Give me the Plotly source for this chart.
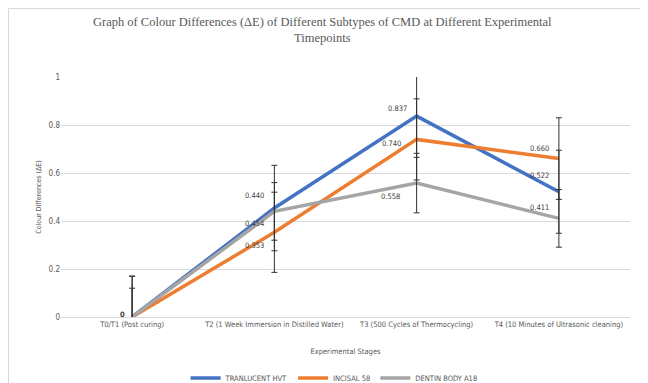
import plotly.graph_objects as go

categories = ["T0/T1 (Post curing)", "T2 (1 Week Immersion in Distilled Water)",
              "T3 (500 Cycles of Thermocycling)", "T4 (10 Minutes of Ultrasonic cleaning)"]
series_names = ["TRANLUCENT HVT", "INCISAL 58", "DENTIN BODY A18"]
translucent = [0.0, 0.454, 0.837, 0.522]
incisal = [0.0, 0.353, 0.740, 0.660]
dentin = [0.0, 0.440, 0.558, 0.411]
translucent_err = [0.17, 0.178, 0.172, 0.173]
incisal_err = [0.17, 0.167, 0.169, 0.17]
dentin_err = [0.12, 0.12, 0.124, 0.12]

colors = ["#4472C4", "#ED7D31", "#A5A5A5"]
values = [translucent, incisal, dentin]
errors = [translucent_err, incisal_err, dentin_err]
# label offsets (px) per series per point: (xshift, yshift); None = label hidden behind another
label_shifts = [
    [(-5, 3), (-8, -15), (-8, 8), (-8, 16)],
    [None, (-8, -13), (-14, -4), (-8, 10)],
    [None, (-8, 16), (-15, -13), (-8, 11)],
]

FONT = "Liberation Sans Narrow, DejaVu Sans Condensed, Arial, sans-serif"
TXT = "#595959"

fig = go.Figure()
for name, vals, col in zip(series_names, values, colors):
    fig.add_trace(go.Scatter(x=categories, y=vals, mode="lines", name=name,
                             line=dict(color=col, width=3.5), hoverinfo="skip"))
for vals, errs in zip(values, errors):
    fig.add_trace(go.Scatter(x=categories, y=vals, mode="markers", showlegend=False,
                             marker=dict(size=1, color="rgba(0,0,0,0)"),
                             error_y=dict(type="data", array=errs, visible=True,
                                          color="#303030", thickness=1, width=3),
                             hoverinfo="skip"))

annotations = []
for vals, shifts in zip(values, label_shifts):
    for c, v, sh in zip(categories, vals, shifts):
        if sh is None:
            continue
        dx, dy = sh
        annotations.append(dict(x=c, y=v, xref="x", yref="y",
                                text=("<b>0</b>" if v == 0 else f"{v:.3f}"),
                                showarrow=False, xanchor="right", yanchor="middle",
                                xshift=dx, yshift=dy,
                                font=dict(family=FONT, size=7.5,
                                          color="#404040")))

fig.update_layout(
    width=648, height=383,
    margin=dict(l=53, r=26, t=69, b=74, autoexpand=False),
    paper_bgcolor="white", plot_bgcolor="white",
    title=dict(text="Graph of Colour Differences (ΔE) of Different Subtypes of CMD at Different Experimental<br>Timepoints",
               x=0.485, xanchor="center", y=1 - 18 / 383, yanchor="top",
               font=dict(family="Liberation Serif, Times New Roman, serif", size=12.5, color=TXT)),
    showlegend=True,
    legend=dict(orientation="h", x=0.48, xanchor="center", yref="container",
                y=1 - 370 / 383, yanchor="middle",
                font=dict(family=FONT, size=7.5, color=TXT),
                bgcolor="rgba(0,0,0,0)"),
    annotations=annotations,
    shapes=[dict(type="rect", xref="paper", yref="paper",
                 x0=-52.5 / 569, x1=(647.5 - 53) / 569, y0=(309 - 382.5) / 240, y1=(309 - 0.5) / 240,
                 line=dict(color="#D9D9D9", width=1), layer="below")],
)
fig.update_xaxes(type="category", range=[-0.5, 3.5], showgrid=False, showline=True,
                 linecolor="#D9D9D9", ticks="", automargin=False,
                 tickfont=dict(family=FONT, size=7.5, color=TXT),
                 title=dict(text="Experimental Stages", standoff=20,
                            font=dict(family=FONT, size=7.5, color=TXT)))
fig.update_yaxes(range=[0, 1], dtick=0.2, showgrid=True, gridcolor="#D9D9D9", gridwidth=1,
                 zeroline=False, showline=False, ticks="", automargin=False,
                 tickfont=dict(family=FONT, size=8, color=TXT),
                 title=dict(text="Colour Differences (ΔE)", standoff=6,
                            font=dict(family=FONT, size=7, color=TXT)))

fig.write_html("out.html")
